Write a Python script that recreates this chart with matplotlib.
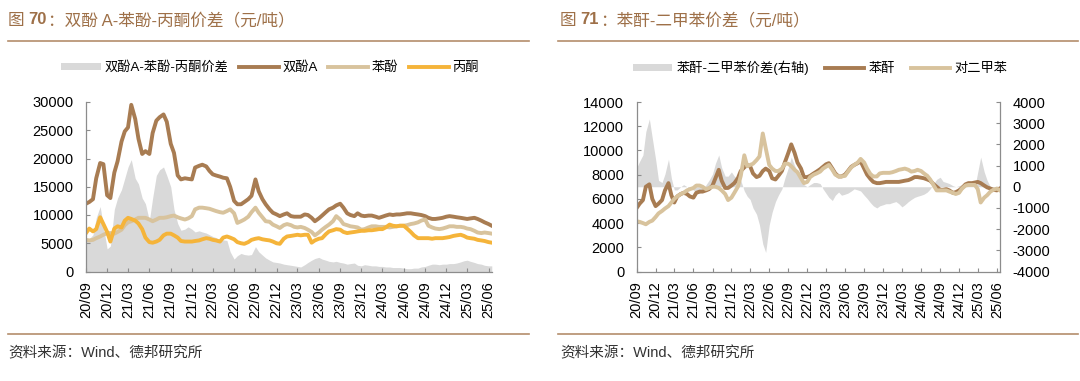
import matplotlib
matplotlib.use("Agg")
import matplotlib.pyplot as plt
from matplotlib.lines import Line2D
from matplotlib.patches import Patch
import pandas as pd

plt.rcParams["font.family"] = ["Liberation Sans", "Noto Sans CJK SC"]
plt.rcParams["axes.unicode_minus"] = False

# ---- data (half-monthly, 2020-09 .. 2025-06) ----
START = "2020-09-01"

# 图70: 双酚A / 苯酚 / 丙酮 / 价差 (元/吨)
bpa = [
    12000, 12300, 12800, 16500, 19200, 19000, 13500, 13000, 17500, 19500,
    23000, 24800, 25500, 29500, 27000, 23500, 20800, 21300, 20800, 24500,
    26700, 27300, 27800, 26500, 22600, 21000, 17000, 16300, 16500, 16400,
    16300, 18400, 18700, 18900, 18600, 17800, 17200, 17000, 16800, 16600,
    16500, 15000, 12500, 11900, 11900, 12300, 12800, 13400, 16300, 14200,
    12800, 11900, 11000, 10400, 10100, 9800, 10100, 10300, 9800, 9700,
    9700, 9700, 10100, 10000, 9500, 8900, 9400, 9900, 10500, 11000,
    11300, 11700, 12000, 11300, 10300, 10000, 9800, 10300, 9900, 9800,
    9900, 9900, 9700, 9500, 9700, 9900, 10100, 10000, 10100, 10100,
    10200, 10300, 10300, 10200, 10100, 10000, 9800, 9500, 9300, 9300,
    9400, 9500, 9700, 9800, 9700, 9600, 9500, 9400, 9300, 9400,
    9500, 9300, 9000, 8700, 8400, 8100,
]
phenol = [
    5600, 5500, 5600, 5900, 6200, 6500, 6800, 6800, 6700, 7000,
    7400, 8200, 8700, 8900, 9200, 9500, 9500, 9500, 9200, 8900,
    9200, 9500, 9500, 9600, 9800, 9900, 9600, 9400, 9200, 9400,
    9800, 11000, 11300, 11300, 11200, 11100, 10900, 10700, 10500, 10400,
    10700, 11000, 10300, 8600, 8900, 9200, 9700, 10500, 11300, 10400,
    9600, 8900, 8800, 8300, 8000, 7700, 8200, 8400, 8200, 7900,
    7800, 7900, 7700, 7400, 7000, 6400, 6900, 7400, 7900, 8300,
    8900, 9800, 9200, 8400, 8200, 8000, 7900, 7800, 7400, 7500,
    7800, 8000, 8000, 7900, 7900, 7900, 7800, 7900, 8000, 8100,
    8100, 8200, 8400, 8500, 8700, 9000, 9200, 8100, 7800, 7600,
    7500, 7600, 7800, 8000, 8000, 7900, 7900, 7800, 7600, 7500,
    7200, 6900, 6800, 6900, 6800, 6700,
]
acetone = [
    6800, 7600, 7100, 7500, 9600, 8400, 7000, 5300, 7600, 8000,
    7800, 9000, 9500, 9300, 9000, 8500, 7500, 6000, 5200, 5100,
    5300, 5600, 6400, 6700, 6700, 6400, 6000, 5400, 5300, 5300,
    5300, 5400, 5500, 5700, 5900, 5800, 5600, 5500, 5300, 6000,
    6200, 6000, 5700, 5200, 5000, 4900, 5200, 5600, 5800, 5900,
    5700, 5600, 5500, 5300, 5000, 4900, 5800, 6200, 6300, 6400,
    6500, 6400, 6500, 6500, 5100, 5500, 5800, 5900, 6600, 7100,
    7300, 7500, 7400, 7000, 6800, 6900, 7000, 7100, 7200, 7200,
    7300, 7300, 7400, 7500, 7500, 7800, 8300, 8100, 8000, 8100,
    8100, 7600, 7000, 6400, 5900, 5900, 5900, 5900, 5800, 5900,
    5900, 5900, 6000, 6100, 6300, 6400, 6500, 6300, 6000, 5900,
    5800, 5600, 5500, 5400, 5200, 5100,
]
bpa_spread = [
    5600, 5800, 6500, 9500, 11500, 8000, 4000, 4500, 11000, 13000,
    14500, 16500, 18500, 19800, 16500, 15500, 13000, 12000, 9000, 13000,
    17000, 18000, 18500, 17000, 15000, 11000, 8500, 7300, 7500, 7900,
    7500, 7000, 7200, 7000, 6800, 6500, 6200, 6000, 5600, 5600,
    5500, 3500, 2200, 2800, 3200, 3000, 2900, 3000, 4400, 3500,
    2900, 2400, 2000, 1700, 1600, 1500, 1300, 1200, 1100, 1000,
    900, 800, 1200, 1600, 2000, 2300, 2500, 2200, 2000, 1800,
    1700, 1800, 1600, 1500, 1300, 1400, 1500, 1100, 1000, 1200,
    1100, 1000, 1000, 900, 900, 800, 800, 700, 700, 700,
    600, 500, 500, 600, 600, 800, 900, 1100, 1300, 1300,
    1200, 1300, 1300, 1400, 1400, 1500, 1700, 1900, 2000, 1800,
    1600, 1400, 1300, 1100, 1000, 1000,
]

# 图71: 苯酐 / 对二甲苯 / 价差(右轴)
pa = [
    5250, 5600, 5900, 7000, 7200, 6000, 5400, 5600, 5900, 6700,
    7300, 6300, 5700, 6200, 6400, 6500, 6400, 6200, 6100, 6500,
    6600, 6600, 6700, 6800, 7100, 7700, 8400, 7500, 6900, 6900,
    7100, 7300, 7700, 8300, 8600, 8800, 8700, 8100, 7800, 7900,
    8300, 8500, 8300, 7700, 7600, 7900, 8300, 9000, 9800, 10500,
    9800, 9000, 8500, 7800, 7800, 7900, 8100, 8250, 8450, 8650,
    8850, 8950, 8500, 8100, 7850, 7850, 8000, 8300, 8650, 8800,
    8950, 9100, 8500, 8000, 7650, 7400, 7300, 7300, 7350, 7400,
    7400, 7400, 7400, 7400, 7450, 7500, 7550, 7650, 7800, 7800,
    7750, 7700, 7600, 7500, 7200, 7000, 6750, 6750, 6800, 6700,
    6500, 6550, 6700, 6900, 7200, 7300, 7300, 7350, 7400, 7300,
    7100, 6950, 6850, 6750, 6700, 6850,
]
px = [
    4150, 4100, 4000, 3900, 4100, 4200, 4500, 4800, 5000, 5200,
    5400, 5700, 6000, 6200, 6400, 6500, 6700, 6800, 6900, 7100,
    7100, 7000, 6800, 6900, 7000, 7000, 6900, 6700, 6400, 5900,
    6100, 6500, 7000, 7900, 9600, 8700, 8800, 8900, 9200, 9500,
    11400, 10200, 8800, 8500, 8300, 8300, 8500, 8900, 8900, 8700,
    8400, 8200, 7700, 7300, 7400, 7800, 8000, 8100, 8250, 8500,
    8650, 8800, 8400, 8000, 7850, 7850, 7900, 8250, 8600, 8800,
    9000, 9300, 9000, 8500, 8050, 7850, 7850, 8100, 8150, 8150,
    8150, 8200, 8300, 8400, 8450, 8500, 8400, 8250, 8300, 8400,
    8300, 8100, 7900, 7600, 7100, 6700, 6700, 6700, 6700, 6600,
    6500, 6400, 6500, 6850, 7100, 7150, 7150, 7150, 6800, 5700,
    6100, 6300, 6600, 6750, 6850, 6700,
]
pa_spread = [
    900, 1200, 1500, 2600, 3200, 2300, 1300, 300, 200, 600,
    1300, 400, -150, -150, 0, 100, 0, -100, -150, -300,
    -300, -200, 100, 300, 600, 1100, 1500, 900, 500, 500,
    700, 500, 400, 300, -200, -450, -600, -1000, -1300, -1800,
    -2700, -3100, -1800, -1200, -700, -400, -100, 400, 900, 1400,
    1000, 700, 300, 100, 0, 100, 200, 200, 150, -100,
    -300, -500, -650, -400, -250, -400, -350, -300, -200, -100,
    -150, -200, -400, -550, -750, -900, -1000, -900, -850, -800,
    -800, -750, -700, -800, -950, -850, -700, -600, -500, -450,
    -400, -350, -250, -100, 150, 350, 450, 250, 200, 150,
    50, 0, 50, 100, 150, 150, 100, 0, 700, 1400,
    700, 300, 0, -100, -150, 0,
]

dates = pd.date_range(START, periods=len(bpa), freq="SMS")
ticks = pd.date_range(START, "2025-06-01", freq="3MS")
tick_labels = [d.strftime("%y/%m") for d in ticks]

# ---- style ----
BROWN = "#A87C52"
TAN = "#D8C39D"
ORANGE = "#F5B43A"
GREY = "#D9D9D9"
HEAD = "#9E7048"
RULE = "#B48D6C"
SPINE = "#8C8C8C"
LW = 2.8

W, H = 1080, 381
fig = plt.figure(figsize=(W / 100, H / 100), dpi=100)


def fx(px_):
    return px_ / W


def fy(py_):
    return 1 - py_ / H


def style_axis(ax):
    ax.set_xlim(pd.Timestamp(START), pd.Timestamp("2025-06-16"))
    ax.set_xticks(ticks)
    ax.set_xticklabels(tick_labels, rotation=90)
    ax.tick_params(axis="both", direction="in", length=3, width=0.8,
                   color=SPINE, labelsize=10.5, pad=9)
    ax.tick_params(axis="x", pad=7)
    for side in ("top", "right"):
        ax.spines[side].set_visible(False)
    for side in ("left", "bottom"):
        ax.spines[side].set_color(SPINE)
        ax.spines[side].set_linewidth(0.9)


def rich_title(x_px, y_px, pieces, size=12):
    # pieces: (text, weight, gap after in px)
    renderer = fig.canvas.get_renderer()
    x = fx(x_px)
    for s, weight, gap in pieces:
        t = fig.text(x, fy(y_px), s, fontsize=size, fontweight=weight,
                     color=HEAD, va="center", ha="left")
        x = (t.get_window_extent(renderer).x1 + gap) / W


def rule(x0, x1, y):
    fig.add_artist(Line2D([fx(x0), fx(x1)], [fy(y), fy(y)],
                          transform=fig.transFigure, color=RULE, lw=1.2))


# ---- 图70 ----
ax1 = fig.add_axes([fx(86), fy(271.5), fx(492 - 86), (271.5 - 102) / H])
ax1.fill_between(dates, 0, bpa_spread, color=GREY, lw=0)
ax1.plot(dates, bpa, color=BROWN, lw=LW)
ax1.plot(dates, phenol, color=TAN, lw=LW)
ax1.plot(dates, acetone, color=ORANGE, lw=LW)
ax1.set_ylim(0, 30000)
ax1.set_yticks(range(0, 30001, 5000))
style_axis(ax1)

h1 = [Patch(facecolor=GREY, edgecolor="none"),
      Line2D([], [], color=BROWN, lw=LW),
      Line2D([], [], color=TAN, lw=LW),
      Line2D([], [], color=ORANGE, lw=LW)]
ax1.legend(h1, ["双酚A-苯酚-丙酮价差", "双酚A", "苯酚", "丙酮"],
           loc="center", bbox_to_anchor=(fx(270), fy(68)), bbox_transform=fig.transFigure,
           ncol=4, frameon=False, fontsize=9.5, handlelength=3.0, handleheight=0.5,
           handletextpad=0.3, columnspacing=0.8)

# ---- 图71 ----
ax2 = fig.add_axes([fx(636.7), fy(271.5), fx(1000 - 636.7), (271.5 - 102) / H])
ax2r = ax2.twinx()
ax2r.fill_between(dates, 0, pa_spread, color=GREY, lw=0)
ax2.plot(dates, pa, color=BROWN, lw=LW)
ax2.plot(dates, px, color=TAN, lw=LW)
ax2.set_zorder(ax2r.get_zorder() + 1)
ax2.patch.set_visible(False)
ax2.set_ylim(0, 14000)
ax2.set_yticks(range(0, 14001, 2000))
ax2r.set_ylim(-4000, 4000)
ax2r.set_yticks(range(-4000, 4001, 1000))
style_axis(ax2)
ax2r.tick_params(axis="y", direction="in", length=3, width=0.8,
                 color=SPINE, labelsize=10.5, pad=9)
for side in ("top", "left", "bottom"):
    ax2r.spines[side].set_visible(False)
ax2r.spines["right"].set_color(SPINE)
ax2r.spines["right"].set_linewidth(0.9)

h2 = [Patch(facecolor=GREY, edgecolor="none"),
      Line2D([], [], color=BROWN, lw=LW),
      Line2D([], [], color=TAN, lw=LW)]
ax2.legend(h2, ["苯酐-二甲苯价差(右轴)", "苯酐", "对二甲苯"],
           loc="center", bbox_to_anchor=(fx(820), fy(68)), bbox_transform=fig.transFigure,
           ncol=3, frameon=False, fontsize=9.5, handlelength=3.0, handleheight=0.5,
           handletextpad=0.3, columnspacing=1.2)

# ---- headers / footers ----
rich_title(8, 20, [("图", "normal", 4), ("70", "bold", 1),
                   ("：双酚 A-苯酚-丙酮价差（元/吨）", "normal", 0)])
rich_title(560, 20, [("图", "normal", 4), ("71", "bold", 1),
                     ("：苯酐-二甲苯价差（元/吨）", "normal", 0)])
rule(8, 529, 41)
rule(558, 1078, 41)
rule(8, 529, 334)
rule(558, 1078, 334)
fig.text(fx(8), fy(353), "资料来源：Wind、德邦研究所", fontsize=10.5, color="#333333", va="center")
fig.text(fx(560), fy(353), "资料来源：Wind、德邦研究所", fontsize=10.5, color="#333333", va="center")

fig.savefig("out.png", dpi=100)
